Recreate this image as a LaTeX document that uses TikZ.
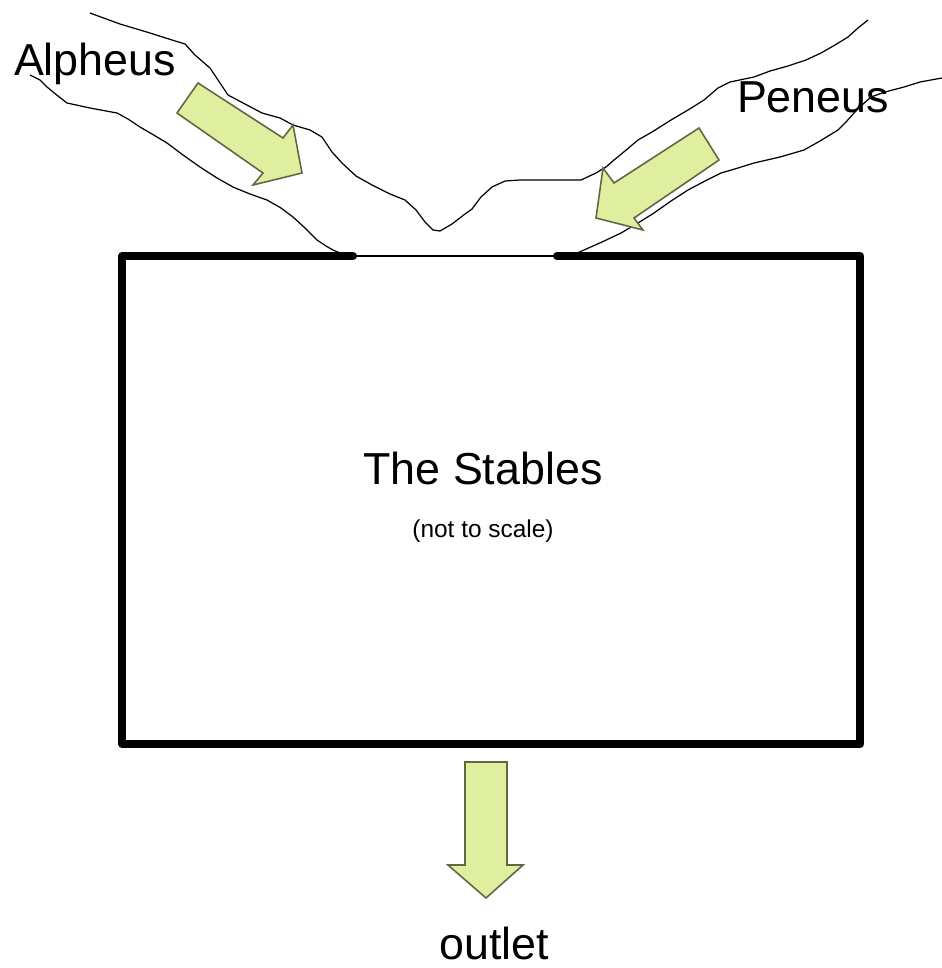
\documentclass[tikz,border=0pt]{standalone}
\usepackage{fontspec}
\setmainfont{Liberation Sans}
\usepackage{xcolor}
\usepackage{tikz}

\definecolor{flowfill}{RGB}{224,238,160}
\definecolor{flowedge}{RGB}{95,105,65}

\tikzset{
  bank/.style={line width=0.7pt, black, line join=round},
  flow/.style={fill=flowfill, draw=flowedge, line width=0.9pt, line join=miter},
  wall/.style={line width=4.6pt, line cap=round, line join=round},
  biglabel/.style={font=\fontsize{25.5}{30}\selectfont, inner sep=0pt, anchor=base}
}

\begin{document}
\begin{tikzpicture}[x=0.02cm, y=-0.02cm]
\useasboundingbox (0,0) rectangle (942,968);
\fill[white] (0,0) rectangle (942,968);

\draw[bank] (90,13) -- (120,24) -- (150,33) -- (172,40) -- (185,44) -- (195,55) -- (210,68) -- (218,80) -- (228,95) -- (245,104) -- (262,113) -- (280,118) -- (293,125) -- (310,130) -- (322,137) -- (332,152) -- (342,163) -- (356,176) -- (372,185) -- (390,194) -- (405,200) -- (416,210) -- (425,222) -- (433,230) -- (440,231) -- (452,224) -- (465,214) -- (472,209) -- (481,197) -- (492,187) -- (505,181) -- (520,180) -- (551,180) -- (581,180) -- (596,173) -- (606,167) -- (614,160) -- (625,151) -- (638,140) -- (652,132) -- (671,120) -- (688,110) -- (704,100) -- (718,88) -- (730,82) -- (754,77) -- (770,71) -- (788,66) -- (806,60) -- (821,53) -- (835,45) -- (848,37) -- (858,28) -- (868,20);
\draw[bank] (30,75) -- (40,80) -- (47,87) -- (58,96) -- (67,103) -- (90,108) -- (117,113) -- (128,119) -- (140,127) -- (152,134) -- (167,143) -- (183,155) -- (200,167) -- (217,178) -- (233,187) -- (250,194) -- (267,200) -- (281,208) -- (293,217) -- (305,228) -- (317,240) -- (326,246) -- (333,250) -- (345,255);
\draw[bank] (942,78) -- (920,82) -- (904,87) -- (885,92) -- (871,97) -- (862,105) -- (854,113) -- (846,122) -- (838,130) -- (820,141) -- (804,150) -- (780,157) -- (754,163) -- (738,168) -- (721,173) -- (705,181) -- (688,190) -- (671,201) -- (654,213) -- (638,223) -- (621,233) -- (602,242) -- (584,250) -- (575,254);

\draw[flow] (198,83) -- (283,138) -- (293,125) -- (302,173) -- (253,185) -- (263,173) -- (177,113) -- cycle;
\draw[flow] (699,128) -- (614,183) -- (603,168) -- (596,218) -- (643,230) -- (634,218) -- (719,160) -- cycle;
\draw[flow] (465,762) -- (507,762) -- (507,865) -- (523,865) -- (486,898) -- (448,865) -- (465,865) -- cycle;

\draw[wall] (353,256) -- (122,256) -- (122,744) -- (860,744) -- (860,256) -- (557,256);
\draw[line width=1pt] (353,256) -- (557,256);

\node[biglabel] (alpheus) at (95,75) {Alpheus};
\node[biglabel] (peneus) at (813,112) {Peneus};
\node[biglabel] (stables) at (483,484) {The Stables};
\node[inner sep=0pt, anchor=base, font=\fontsize{13.9}{16}\selectfont] (scale) at (483,537) {(not to scale)};
\node[biglabel] (outlet) at (494,959) {outlet};
\end{tikzpicture}
\end{document}
